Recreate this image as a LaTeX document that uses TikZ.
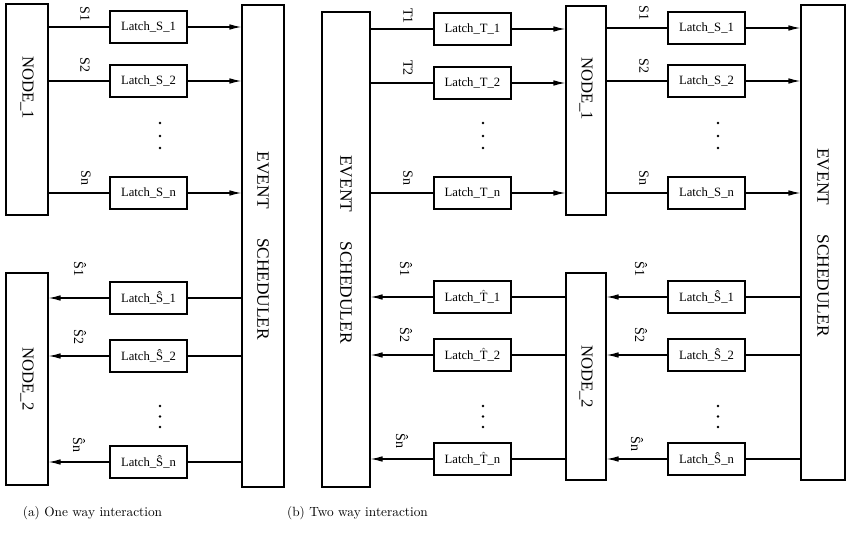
\documentclass[tikz,border=0pt]{standalone}
\usepackage{fontspec}
\usepackage{tikz}
\usetikzlibrary{arrows.meta}
\newfontfamily\timesfont{Liberation Serif}
\newcommand{\hatT}{$\hat{\hbox{T}}$}

\begin{document}
\begin{tikzpicture}[
    x=0.75pt, y=-0.75pt,
    latch/.style={rectangle, draw, line width=0.85pt, inner sep=0pt, minimum width=57.75pt, minimum height=24pt, font=\timesfont\fontsize{9.5}{11}\selectfont},
    unit/.style={rectangle, draw, line width=0.85pt, inner sep=0pt, font=\timesfont\fontsize{12.5}{14}\selectfont},
    sched/.style={unit, font=\timesfont\fontsize{13}{15}\selectfont},
    sig/.style={rotate=-90, inner sep=0pt, font=\timesfont\fontsize{10.5}{12}\selectfont},
    wire/.style={line width=0.85pt},
    arrow/.style={-{Latex[length=9pt, width=4.2pt]}, line width=0.85pt}
]
    \useasboundingbox (0,0) rectangle (846,545);

    % (a) one way: nodes and scheduler
    \node[unit, minimum width=31.5pt, minimum height=158.25pt] (nodeA1) at (27, 109.5) {\rotatebox{-90}{NODE\_1\hspace{33pt}}};
    \node[unit, minimum width=31.5pt, minimum height=159pt] (nodeA2) at (27, 379) {\rotatebox{-90}{NODE\_2}};
    \node[sched, minimum width=31.5pt, minimum height=361.5pt] (schedA) at (263, 246) {\rotatebox{-90}{EVENT\hspace{22pt}SCHEDULER}};

    % (a) latches from NODE_1
    \node[latch] (latchA1) at (148.5, 27) {Latch\_S\_1};
    \node[latch] (latchA2) at (148.5, 81) {Latch\_S\_2};
    \node[latch] (latchAn) at (148.5, 193) {Latch\_S\_n};

    % (a) latches back to NODE_2
    \node[latch] (latchB1) at (148.5, 298) {Latch\_Ŝ\_1};
    \node[latch] (latchB2) at (148.5, 356) {Latch\_Ŝ\_2};
    \node[latch] (latchBn) at (148.5, 462) {Latch\_Ŝ\_n};

    % (a) signal names
    \node[sig] (sigA1) at (85, 14) {S1};
    \node[sig] (sigA2) at (85, 65) {S2};
    \node[sig] (sigAn) at (86, 178) {Sn};
    \node[sig] (sigB1) at (80, 269) {Ŝ1};
    \node[sig] (sigB2) at (80, 337) {Ŝ2};
    \node[sig] (sigBn) at (79, 445) {Ŝn};

    % (a) connections
    \draw[wire] (nodeA1.east |- latchA1) -- (latchA1);
    \draw[wire] (nodeA1.east |- latchA2) -- (latchA2);
    \draw[wire] (nodeA1.east |- latchAn) -- (latchAn);
    \draw[arrow] (latchA1) -- (schedA.west |- latchA1);
    \draw[arrow] (latchA2) -- (schedA.west |- latchA2);
    \draw[arrow] (latchAn) -- (schedA.west |- latchAn);
    \draw[wire] (schedA.west |- latchB1) -- (latchB1);
    \draw[wire] (schedA.west |- latchB2) -- (latchB2);
    \draw[wire] (schedA.west |- latchBn) -- (latchBn);
    \draw[arrow] (latchB1) -- (nodeA2.east |- latchB1);
    \draw[arrow] (latchB2) -- (nodeA2.east |- latchB2);
    \draw[arrow] (latchBn) -- (nodeA2.east |- latchBn);

    % (b) two way: nodes and schedulers
    \node[sched, minimum width=36pt, minimum height=356.25pt] (schedL) at (346, 249.5) {\rotatebox{-90}{EVENT\hspace{22pt}SCHEDULER}};
    \node[unit, minimum width=30pt, minimum height=156.75pt] (nodeB1) at (586, 110.5) {\rotatebox{-90}{NODE\_1\hspace{33pt}}};
    \node[unit, minimum width=30pt, minimum height=155.25pt] (nodeB2) at (586, 376.5) {\rotatebox{-90}{NODE\_2}};
    \node[sched, minimum width=33pt, minimum height=356.25pt] (schedR) at (823, 242.5) {\rotatebox{-90}{EVENT\hspace{22pt}SCHEDULER}};

    % (b) latches into NODE_1
    \node[latch] (latchT1) at (472.5, 29) {Latch\_T\_1};
    \node[latch] (latchT2) at (472.5, 83) {Latch\_T\_2};
    \node[latch] (latchTn) at (472.5, 193) {Latch\_T\_n};

    % (b) latches out of NODE_2
    \node[latch] (latchU1) at (472.5, 297) {Latch\_\hatT\_1};
    \node[latch] (latchU2) at (472.5, 355) {Latch\_\hatT\_2};
    \node[latch] (latchUn) at (472.5, 459) {Latch\_\hatT\_n};

    % (b) latches out of NODE_1
    \node[latch] (latchS1) at (706.5, 28) {Latch\_S\_1};
    \node[latch] (latchS2) at (706.5, 81) {Latch\_S\_2};
    \node[latch] (latchSn) at (706.5, 193) {Latch\_S\_n};

    % (b) latches into NODE_2
    \node[latch] (latchR1) at (706.5, 297) {Latch\_Ŝ\_1};
    \node[latch] (latchR2) at (706.5, 355) {Latch\_Ŝ\_2};
    \node[latch] (latchRn) at (706.5, 459) {Latch\_Ŝ\_n};

    % (b) signal names
    \node[sig] (sigT1) at (408, 16) {T1};
    \node[sig] (sigT2) at (408, 68) {T2};
    \node[sig] (sigTn) at (408, 178) {Sn};
    \node[sig] (sigU1) at (406, 269) {Ŝ1};
    \node[sig] (sigU2) at (406, 335) {Ŝ2};
    \node[sig] (sigUn) at (402, 441) {Ŝn};
    \node[sig] (sigS1) at (644, 13) {S1};
    \node[sig] (sigS2) at (644, 66) {S2};
    \node[sig] (sigSn) at (644, 178) {Sn};
    \node[sig] (sigR1) at (641, 269) {Ŝ1};
    \node[sig] (sigR2) at (641, 335) {Ŝ2};
    \node[sig] (sigRn) at (637, 444) {Ŝn};

    % (b) connections
    \draw[wire] (schedL.east |- latchT1) -- (latchT1);
    \draw[wire] (schedL.east |- latchT2) -- (latchT2);
    \draw[wire] (schedL.east |- latchTn) -- (latchTn);
    \draw[arrow] (latchT1) -- (nodeB1.west |- latchT1);
    \draw[arrow] (latchT2) -- (nodeB1.west |- latchT2);
    \draw[arrow] (latchTn) -- (nodeB1.west |- latchTn);
    \draw[wire] (nodeB1.east |- latchS1) -- (latchS1);
    \draw[wire] (nodeB1.east |- latchS2) -- (latchS2);
    \draw[wire] (nodeB1.east |- latchSn) -- (latchSn);
    \draw[arrow] (latchS1) -- (schedR.west |- latchS1);
    \draw[arrow] (latchS2) -- (schedR.west |- latchS2);
    \draw[arrow] (latchSn) -- (schedR.west |- latchSn);
    \draw[wire] (nodeB2.west |- latchU1) -- (latchU1);
    \draw[wire] (nodeB2.west |- latchU2) -- (latchU2);
    \draw[wire] (nodeB2.west |- latchUn) -- (latchUn);
    \draw[arrow] (latchU1) -- (schedL.east |- latchU1);
    \draw[arrow] (latchU2) -- (schedL.east |- latchU2);
    \draw[arrow] (latchUn) -- (schedL.east |- latchUn);
    \draw[wire] (schedR.west |- latchR1) -- (latchR1);
    \draw[wire] (schedR.west |- latchR2) -- (latchR2);
    \draw[wire] (schedR.west |- latchRn) -- (latchRn);
    \draw[arrow] (latchR1) -- (nodeB2.east |- latchR1);
    \draw[arrow] (latchR2) -- (nodeB2.east |- latchR2);
    \draw[arrow] (latchRn) -- (nodeB2.east |- latchRn);

    % vertical dots between rows
    \foreach \y in {123, 136, 148} {
        \fill (160, \y) circle (1pt);
        \fill (483, \y) circle (1pt);
        \fill (718, \y) circle (1pt);
    }
    \foreach \y in {406, 416.5, 427} {
        \fill (160, \y) circle (1pt);
        \fill (483, \y) circle (1pt);
        \fill (718, \y) circle (1pt);
    }

    % captions
    \node (capA) at (92.5, 513) {(a) One way interaction};
    \node (capB) at (357.5, 513) {(b) Two way interaction};
\end{tikzpicture}
\end{document}
